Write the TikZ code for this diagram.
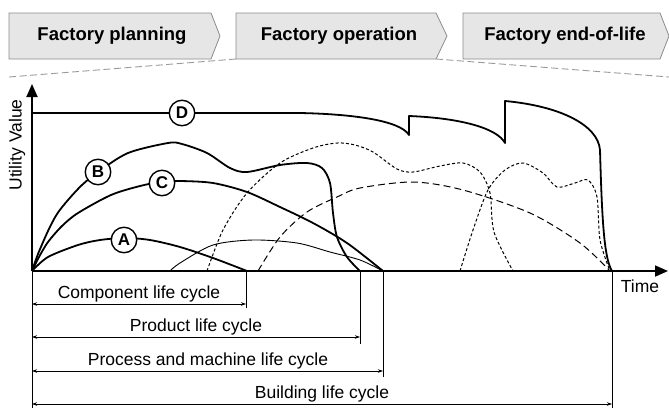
\documentclass[tikz,border=0pt]{standalone}
\usepackage{fontspec}
\setmainfont{Liberation Sans}
\usetikzlibrary{arrows.meta}
\definecolor{hdrfill}{HTML}{E6E6E6}
\definecolor{hdrline}{HTML}{8C8C8C}
\definecolor{guide}{HTML}{9A9A9A}
\begin{document}
\begin{tikzpicture}[x=1pt,y=-1pt,
  hdr/.style={draw=hdrline,fill=hdrfill,line width=0.8pt},
  hdrtxt/.style={font=\bfseries\fontsize{18.5}{20}\selectfont,inner sep=0pt},
  txt/.style={font=\fontsize{17.5}{20}\selectfont,inner sep=0pt},
  guideline/.style={draw=guide,line width=0.9pt,dash pattern=on 7pt off 3.5pt},
  axis/.style={line width=1.8pt,-{Triangle[length=13pt,width=11pt]}},
  bold/.style={line width=1.8pt,line join=round},
  thin/.style={line width=0.9pt},
  dotc/.style={line width=1pt,dash pattern=on 3pt off 2.2pt},
  dashc/.style={line width=1pt,dash pattern=on 7pt off 4pt},
  lbl/.style={circle,draw,fill=white,line width=1.4pt,minimum size=25.5pt,inner sep=0pt,font=\bfseries\fontsize{17}{17}\selectfont},
  ext/.style={line width=0.8pt},
  dim/.style={line width=0.8pt,{Stealth[length=5pt,width=3.5pt]}-{Stealth[length=5pt,width=3.5pt]}}
]
\useasboundingbox (0,0) rectangle (669,408);

% ---------- header chevrons ----------
\draw[hdr] (9,13) -- (211,13) -- (220,36) -- (211,59) -- (9,59) -- cycle;
\draw[hdr] (236,13) -- (436,13) -- (447,36) -- (436,59) -- (236,59) -- cycle;
\draw[hdr] (463,13) -- (660,13) -- (669,36) -- (660,59) -- (463,59) -- cycle;
\node[hdrtxt] (h1) at (112,36) {Factory planning};
\node[hdrtxt] (h2) at (339,36) {Factory operation};
\node[hdrtxt] (h3) at (565,36) {Factory end-of-life};
\coordinate (g1a) at (236,59);
\coordinate (g1b) at (9,77);
\coordinate (g2a) at (436,59);
\coordinate (g2b) at (669,77);
\draw[guideline] (g1a) -- (g1b);
\draw[guideline] (g2a) -- (g2b);

% ---------- axes ----------
\coordinate (O) at (32,271);
\coordinate (Ytop) at (32,84);
\coordinate (Xend) at (668,271);
\draw[axis] (O) -- (Ytop);
\draw[axis] (O) -- (Xend);
\node[txt] (time) at (640,286) {Time};
\node[txt,rotate=90] (uv) at (17,145) {Utility Value};

% ---------- curves ----------
% thin solid
\draw[thin] plot[smooth] coordinates {(170,271) (180,263) (213,245) (253,240) (297,243) (330,252) (360,260) (383,271)};
% dotted 1
\draw[dotc] plot[smooth] coordinates {(207,271) (223,230) (247,193) (280,163) (313,148) (337,143) (355,145) (373,152) (397,169) (413,172) (440,166) (463,163) (480,172) (490,193) (494,232) (513,271)};
% dotted 2
\draw[dotc] plot[smooth] coordinates {(460,271) (473,230) (488,190) (505,170) (523,163) (543,173) (557,187) (575,183) (588,180) (597,197) (600,240) (610,271)};
% dashed
\draw[dashc] plot[smooth] coordinates {(258,271) (280,237) (307,212) (337,197) (360,188) (413,182) (463,190) (530,213) (580,243) (610,271)};
% A
\draw[bold] plot[smooth] coordinates {(32,271) (48,257) (78,245) (100,240) (125,238) (150,240) (180,247) (213,258) (247,271)};
% C
\draw[bold] plot[smooth] coordinates {(32,271) (39,257) (48,242) (62,226) (78,213) (111,195) (140,186) (161,182) (180,181) (213,183) (247,192) (280,207) (313,223) (347,243) (383,271)};
% B
\draw[bold] plot[smooth,tension=0.5] coordinates {(32,271) (38,254) (48,231) (57,214) (68,200) (82,185) (98,172) (128,153) (168,143) (182,144) (207,153) (230,168) (247,172) (280,165) (307,163) (322,168) (330,183) (333,213) (337,237) (347,257) (360,271)};
% D
\draw[bold] (32,113) -- (300,113) .. controls (350,114) and (400,120) .. (409,135)
  -- (409,116) .. controls (460,118) and (497,128) .. (505,143)
  -- (505,101) .. controls (560,106) and (598,125) .. (600,150)
  .. controls (602,220) and (604,258) .. (612,271);

% ---------- labels on curves ----------
\node[lbl] (D) at (182,113) {D};
\node[lbl] (B) at (98,172) {B};
\node[lbl] (C) at (162,183) {C};
\node[lbl] (A) at (124,240) {A};

% ---------- dimension lines ----------
\coordinate (e0) at (32,408);
\coordinate (e1t) at (246,271);
\coordinate (e1b) at (246,308);
\coordinate (e2t) at (360,271);
\coordinate (e2b) at (360,344);
\coordinate (e3t) at (383,271);
\coordinate (e3b) at (383,377);
\coordinate (e4t) at (612,271);
\coordinate (e4b) at (612,408);
\draw[ext] (O) -- (e0);
\draw[ext] (e1t) -- (e1b);
\draw[ext] (e2t) -- (e2b);
\draw[ext] (e3t) -- (e3b);
\draw[ext] (e4t) -- (e4b);

\coordinate (l1) at (32,304);  \coordinate (r1) at (246,304);
\coordinate (l2) at (32,337);  \coordinate (r2) at (360,337);
\coordinate (l3) at (32,371);  \coordinate (r3) at (383,371);
\coordinate (l4) at (32,404);  \coordinate (r4) at (612,404);
\draw[dim] (l1) -- (r1);
\draw[dim] (l2) -- (r2);
\draw[dim] (l3) -- (r3);
\draw[dim] (l4) -- (r4);
\node[txt,anchor=base] (t1) at (139,298) {Component life cycle};
\node[txt,anchor=base] (t2) at (196,331) {Product life cycle};
\node[txt,anchor=base] (t3) at (208,365) {Process and machine life cycle};
\node[txt,anchor=base] (t4) at (322,398) {Building life cycle};
\end{tikzpicture}
\end{document}
